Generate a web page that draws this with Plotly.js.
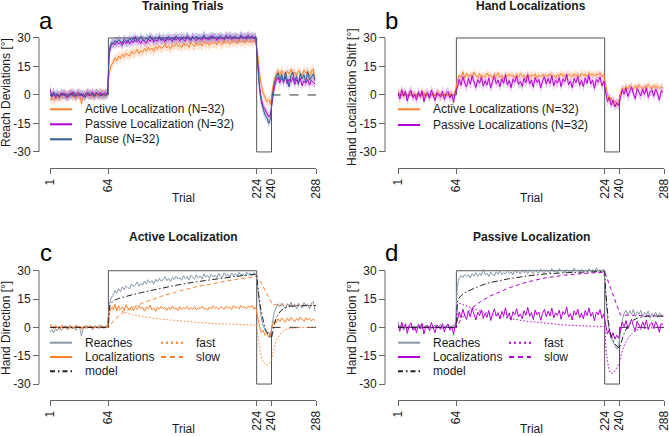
<!DOCTYPE html>
<html>
<head>
<meta charset="utf-8">
<script src="https://cdn.plot.ly/plotly-3.0.1.min.js"></script>
<style>html,body{margin:0;padding:0;background:#fff}#chart{width:669px;height:436px}</style>
</head>
<body>
<div id="chart"></div>
<script>
// every second trial (1, 3, ..., 287): baseline 1-63, rotation 65-223, reversal 225-239, clamp 241-287
const trials = Array.from({ length: 144 }, (_, i) => 2 * i + 1);

const activeReach = [
	-2.5, -1.2, -2.8, -0.6, -1.9, 0.4, -1.5, -0.8, 0.9, -1.1, -0.3, 1.2, -0.9, 0.2, -1.6, 0.8,
	-0.4, -4.6, 0.3, -0.7, 1.1, -0.2, 0.6, -1.3, 0.9, 0.1, -0.5, 1.4, 0.2, -0.6, 0.8, 0.5,
	12, 15.5, 17, 19.5, 18, 20.5, 19, 21.5, 20, 22,
	21, 20.5, 23, 21.5, 22.5, 24, 21.8, 23.2, 22.4, 24.5,
	23, 25.2, 23.6, 24.8, 22.9, 25.5, 24.1, 26, 24.4, 25.2,
	26.8, 24.7, 25.9, 24.2, 26.5, 25.3, 27.1, 25.6, 26.3, 24.9,
	27.4, 25.8, 26.9, 25.1, 27.6, 26.2, 25.4, 27.8, 26.1, 27.2,
	25.7, 28.3, 26.6, 27.5, 25.9, 28.1, 26.8, 27.7, 26.3, 28.6,
	27.1, 26.4, 28.9, 27.3, 28.1, 26.7, 28.8, 27.4, 28.5, 26.9,
	29.1, 27.6, 28.4, 27.2, 29.3, 27.8, 28.7, 27.5, 29, 28.2,
	22, 12, 5, 1, -1.5, -3.5, -2.5, -5,
	3, 8, 10.5, 12.5, 10.8, 12.9, 11.2, 9.8, 12.6, 11, 13.4, 10.7,
	12.1, 9.9, 12.8, 11.3, 10.2, 13.1, 11.6, 12.4, 9.7, 12.9, 13.6, 8.5
];
const passiveReach = [
	3.2, -0.8, 1.5, -1.6, 0.4, -1.2, 1.1, -0.3, 0.9, -1.5, 0.6, -0.2, 1.7, -0.9, 0.3, 1.2,
	-0.6, 0.8, -1.1, 0.5, 1.4, -0.4, 0.2, 1.6, -0.7, 0.9, 0.1, 1.3, -0.5, 0.7, 1.0, 0.4,
	22, 26, 27.5, 26.3, 28.1, 26.9, 27.8, 26.2, 28.4, 27.1,
	29, 26.8, 28.6, 27.4, 30.8, 27.9, 28.7, 26.9, 29.3, 28,
	27.2, 29.5, 28.1, 30.2, 27.8, 29, 28.3, 30.1, 28.6, 29.4,
	27.9, 30.3, 28.8, 29.6, 28.2, 30.5, 28.9, 29.8, 28.4, 30.6,
	29.1, 28.5, 30.4, 29.2, 28.7, 30.9, 29.3, 28.6, 30.2, 29.5,
	28.8, 31.1, 29.4, 30, 28.9, 31.2, 29.7, 30.4, 28.8, 30.7,
	29.5, 30.1, 29, 31.4, 29.8, 30.5, 29.2, 30.8, 29.6, 30.3,
	29.4, 31, 29.7, 30.6, 29.3, 31.6, 29.9, 30.4, 29.5, 30.9,
	18, 5, -2, -6, -7.5, -9.5, -11.5, -10,
	-2, 4, 7.5, 9.2, 6.4, 8.8, 7.1, 9.5, 5.8, 8.3, 6.9, 9.1,
	5.5, 8, 6.6, 8.7, 4.9, 7.4, 6.2, 8.1, 5.3, 7.7, 6.8, 5.6
];
const pauseReach = [
	0.6, -0.9, 1.3, -0.4, 0.8, -1.2, 0.2, 1.0, -0.6, 0.5, -1.1, 0.9, -0.3, 1.4, -0.8, 0.3,
	1.1, -0.5, 0.7, -1.3, 0.4, 1.2, -0.2, 0.6, -0.9, 1.5, 0.1, -0.7, 0.9, 0.3, -0.4, 0.8,
	24, 27.5, 26.8, 28.6, 27.4, 29.1, 28, 27.3, 29.4, 28.2,
	27.6, 29.8, 28.5, 30.3, 28.1, 29.6, 28.7, 30.9, 29.2, 28.4,
	30.1, 29, 31.2, 29.5, 28.8, 30.4, 29.3, 31, 28.9, 30.2,
	29.6, 28.7, 30.8, 29.4, 30.1, 28.8, 31.1, 29.7, 30.3, 29.1,
	30.6, 29.5, 31.3, 29.8, 28.9, 30.5, 29.6, 31, 29.2, 30.4,
	29.7, 31.5, 30, 29.3, 30.8, 29.6, 31.2, 29.9, 30.6, 29.4,
	31.3, 30.1, 29.5, 30.9, 29.8, 31.4, 30.2, 29.6, 31.1, 30,
	29.7, 31.6, 30.3, 29.9, 31, 30.4, 29.8, 31.2, 30.1, 30.7,
	16, 3, -4, -8, -10.5, -12, -15, -12.5,
	0, 6, 9.5, 11.5, 8, 10.8, 6.5, 11.9, 8.7, 4.2, 10.4, 12.1,
	7.3, 9.8, 5.6, 11.2, 8.4, 10.6, 6.9, 12.3, 7.8, 9.5, 11, 7.6
];
const activeLoc = [
	1.8, 0.4, -0.6, 1.2, 0.2, -0.9, 0.7, 1.1, -0.4, 0.5, -1.2, 0.8, 0.1, -0.7, 1.3, -0.3,
	0.6, -1.0, 0.4, 0.9, -0.5, 0.2, 1.0, -0.8, 0.3, -0.2, 0.7, -0.6, 0.9, 0.2, -0.4, 1.5,
	7.5, 10.5, 9.2, 12.3, 8.8, 11.4, 9.6, 10.8, 8.9, 12,
	10.1, 9.3, 11.2, 8.7, 10.4, 9.5, 11.5, 9.9, 10.6, 8.6,
	10.9, 9.8, 11.7, 9.2, 10.3, 8.4, 10.8, 9.6, 11.1, 9.9,
	10.5, 9, 10.7, 9.4, 11.3, 9.7, 10.2, 8.9, 10.9, 9.5,
	10.6, 9.8, 11, 9.3, 10.4, 9.6, 10.9, 9.2, 10.5, 9.9,
	11.2, 9.7, 10.3, 9.1, 10.8, 9.8, 11.4, 10, 10.6, 9.5,
	11, 10.2, 9.6, 11.3, 10.1, 10.7, 9.4, 11.5, 10.3, 10.9,
	9.8, 11.6, 10.4, 11, 9.9, 11.2, 10.5, 11.7, 9.6, 10.8,
	5, 0.5, -2.8, -1.5, -4.2, -3, -5.3, -3.6,
	1.2, 3.5, 2.4, 4.6, 3.1, 5, 3.8, 2.7, 4.9, 3.4, 5.3, 4,
	2.9, 4.7, 3.6, 5.5, 4.2, 3.1, 5.1, 3.9, 4.8, 3.3, 4.4, 3.7
];
const passiveLoc = [
	1.5, -2.1, 2.8, -0.6, 1.9, -3.2, 0.8, 2.4, -1.4, 0.3, -2.7, 1.6, -0.9, 2.2, -3.5, 0.5,
	1.1, -1.8, 2.6, -0.4, -2.9, 1.3, 0.2, -1.1, 2.0, -2.4, 0.7, 1.8, -1.5, 0.4, -3.8, 2.1,
	3.5, 8.2, 5.1, 9.6, 6.3, 4.2, 8.7, 5.6, 10.1, 6.8,
	3.9, 8, 6.2, 9.3, 4.7, 7.5, 5.3, 8.9, 3.6, 7.2,
	9.8, 5.9, 7.8, 4.4, 8.5, 6.1, 10.4, 5.2, 7.6, 3.8,
	8.3, 6.7, 9.9, 5.5, 7.1, 4.6, 8.8, 6.4, 10.6, 5.8,
	7.9, 4.1, 9.2, 6.6, 8.1, 3.7, 7.4, 9.5, 5.7, 8.6,
	6, 10.2, 4.9, 7.7, 6.3, 9.1, 4.3, 8.4, 6.9, 10.8,
	5.4, 7.3, 3.9, 8.7, 6.5, 9.7, 5.1, 7.6, 4.5, 8.9,
	6.2, 10.3, 5.8, 7.9, 3.4, 8.2, 6.7, 9.4, 4.8, 7.1,
	2, -3.5, -1.2, -5.4, -2.8, -6.3, -4.1, -5.8,
	-1.5, 2.8, 0.4, 3.6, -0.8, 2.1, 4.2, 0.6, -1.9, 3.3, 1.2, -0.5,
	2.9, 0.3, 3.8, -1.2, 1.7, 2.5, -0.7, 3.1, 0.9, -2.6, 2.2, 1.4
];

// 95% CI half widths of the group means
const activeReachCI = 2.6;
const passiveReachCI = 2.4;
const pauseReachCI = 2.4;
const activeLocCI = 2.0;
const passiveLocCI = 2.6;

// perturbation schedule
const schedTrials = [1, 64, 64, 224, 224, 240, 240];
const schedValues = [0, 0, 30, 30, -30, -30, 0];
const clampTrials = [240, 288];
const clampValues = [0, 0];

// two-rate model fits
const modelTrials = [1, 64, 65, 66, 68, 70, 75, 80, 90, 100, 120, 140, 160, 180, 200, 224,
	225, 226, 228, 230, 232, 234, 236, 238, 240, 241, 242, 244, 246, 248, 250, 255, 260, 270, 288];
const activeFast = [0, 0, 9.5, 10.5, 10.8, 10.5, 9.3, 8.3, 6.8, 5.8, 4.4, 3.4, 2.6, 2.0, 1.6, 1.2,
	-4, -8, -13.5, -17, -19, -20, -19.8, -19, -17.8, -15, -12.5, -8.5, -6, -4.2, -3, -1.2, -0.5, -0.1, 0];
const activeSlow = [0, 0, 0.7, 1.4, 2.6, 3.7, 6, 7.8, 10.5, 12.7, 16.3, 19.2, 21.6, 23.6, 25.3, 27.0,
	26.6, 26, 24.3, 22.4, 20.4, 18.4, 16.3, 14.2, 12.2, 12.0, 12.0, 11.9, 11.9, 11.9, 11.8, 11.8, 11.7, 11.6, 11.5];
const activeModel = [0, 0, 10.2, 11.9, 13.4, 14.2, 15.3, 16.1, 17.3, 18.5, 20.7, 22.6, 24.2, 25.6, 26.9, 28.2,
	22.6, 18, 10.8, 5.4, 1.4, -1.6, -3.5, -4.8, -5.6, -3, -0.5, 3.4, 5.9, 7.7, 8.8, 10.6, 11.2, 11.5, 11.5];
const passiveFast = [0, 0, 12.3, 12.8, 12.6, 12.2, 11.1, 10.1, 8.5, 7.2, 4.9, 3.2, 2.1, 1.3, 0.8, 0.4,
	-8, -14, -21, -24, -24.4, -23.8, -22.3, -20.5, -18.7, -16, -14, -11, -8.5, -6.5, -5, -2.5, -1.2, -0.3, 0];
const passiveSlow = [0, 0, 1.0, 2.0, 3.6, 5.0, 7.8, 10.0, 13.6, 16.5, 20.8, 24.0, 26.2, 27.6, 28.5, 29.2,
	28, 26.7, 24, 21.3, 18.5, 15.8, 13, 10.3, 7.5, 6.6, 6.5, 6.5, 6.5, 6.4, 6.4, 6.3, 6.3, 6.2, 6.0];
const passiveModel = [0, 0, 13.3, 14.8, 16.2, 17.2, 18.9, 20.1, 22.1, 23.7, 25.7, 27.2, 28.3, 28.9, 29.3, 29.6,
	20, 12.7, 3, -2.7, -5.9, -8, -9.3, -10.2, -11.2, -9.4, -7.5, -4.5, -2, -0.1, 1.4, 3.8, 5.1, 5.9, 6.0];

const tickTrials = [1, 64, 224, 240, 288];
const yTicks = [-30, -15, 0, 15, 30];
const groupNames = ['Active Localization (N=32)', 'Passive Localization (N=32)', 'Pause (N=32)'];
const locNames = ['Active Localizations (N=32)', 'Passive Localizations (N=32)'];
const fitNames = ['Reaches', 'Localizations', 'model', 'fast', 'slow'];

const activeColor = '#ff7f2a';
const passiveColor = '#b400d4';
const pauseColor = '#2f5d96';
const reachColor = '#8797a8';
const modelColor = '#222222';
const schedColor = '#555555';
const font = '"Liberation Sans", Arial, Helvetica, sans-serif';
const dotDash = '1.5px,2px';
const dashDash = '4px,3px';
const modelDash = '6px,2.5px,1.5px,2.5px';

const W = 669, H = 436;
const px = v => v / W;
const py = v => 1 - v / H;
const yRange = [-38.45, 35.25];

function hexA(hex, a) {
	const n = parseInt(hex.slice(1), 16);
	return 'rgba(' + (n >> 16) + ',' + ((n >> 8) & 255) + ',' + (n & 255) + ',' + a + ')';
}

function line(p, x, y, color, name, dash) {
	return {
		x: x, y: y, xaxis: p === 1 ? 'x' : 'x' + p, yaxis: p === 1 ? 'y' : 'y' + p,
		type: 'scatter', mode: 'lines', name: name || '',
		line: { color: color, width: 1, dash: dash || 'solid' },
		showlegend: false, hoverinfo: 'skip'
	};
}

function band(p, mean, ci, color) {
	const up = mean.map(v => v + ci);
	const lo = mean.map(v => v - ci).reverse();
	const t = line(p, trials.concat(trials.slice().reverse()), up.concat(lo), color);
	t.fill = 'toself';
	t.fillcolor = hexA(color, 0.22);
	t.line = { width: 0, color: color };
	return t;
}

function schedule(p, withClamp) {
	const t = [line(p, schedTrials, schedValues, schedColor)];
	if (withClamp) t.push(line(p, clampTrials, clampValues, '#333333', '', 'dash'));
	return t;
}

const traces = [].concat(
	// a: training reaches
	schedule(1, true),
	band(1, activeReach, activeReachCI, activeColor),
	band(1, passiveReach, passiveReachCI, passiveColor),
	band(1, pauseReach, pauseReachCI, pauseColor),
	line(1, trials, activeReach, activeColor, groupNames[0]),
	line(1, trials, passiveReach, passiveColor, groupNames[1]),
	line(1, trials, pauseReach, pauseColor, groupNames[2]),
	// b: hand localizations
	schedule(2, false),
	band(2, activeLoc, activeLocCI, activeColor),
	band(2, passiveLoc, passiveLocCI, passiveColor),
	line(2, trials, activeLoc, activeColor, locNames[0]),
	line(2, trials, passiveLoc, passiveColor, locNames[1]),
	// c: active localization model
	schedule(3, true),
	line(3, modelTrials, activeFast, activeColor, fitNames[3], dotDash),
	line(3, modelTrials, activeSlow, activeColor, fitNames[4], dashDash),
	line(3, trials, activeReach, reachColor, fitNames[0]),
	line(3, trials, activeLoc, activeColor, fitNames[1]),
	line(3, modelTrials, activeModel, modelColor, fitNames[2], modelDash),
	// d: passive localization model
	schedule(4, true),
	line(4, modelTrials, passiveFast, passiveColor, fitNames[3], dotDash),
	line(4, modelTrials, passiveSlow, passiveColor, fitNames[4], dashDash),
	line(4, trials, passiveReach, reachColor, fitNames[0]),
	line(4, trials, passiveLoc, passiveColor, fitNames[1]),
	line(4, modelTrials, passiveModel, modelColor, fitNames[2], modelDash)
);

// panel geometry in pixels
const panels = [
	{ x0: 50, x1: 316, top: 28, bottom: 168, axisX: 39, title: 'Training Trials', tag: 'a', ytitle: 'Reach Deviations [°]', tcy: 6, tagY: 21, ytY: 93, trialY: 198 },
	{ x0: 398, x1: 664, top: 28, bottom: 168, axisX: 385, title: 'Hand Localizations', tag: 'b', ytitle: 'Hand Localization Shift [°]', tcy: 6, tagY: 21, ytY: 97, trialY: 198 },
	{ x0: 50, x1: 316, top: 260.8, bottom: 400, axisX: 39, title: 'Active Localization', tag: 'c', ytitle: 'Hand Direction [°]', tcy: 236.5, tagY: 252, ytY: 328, trialY: 429 },
	{ x0: 398, x1: 664, top: 260.8, bottom: 400, axisX: 385, title: 'Passive Localization', tag: 'd', ytitle: 'Hand Direction [°]', tcy: 236.5, tagY: 252, ytY: 328, trialY: 429 }
];

const layout = {
	width: W, height: H,
	margin: { l: 0, r: 0, t: 0, b: 0 },
	paper_bgcolor: '#ffffff', plot_bgcolor: 'rgba(0,0,0,0)',
	font: { family: font, size: 12, color: '#1a1a1a' },
	showlegend: false,
	shapes: [], annotations: []
};

function text(t, x, y, opts) {
	layout.annotations.push(Object.assign({
		text: t, x: px(x), y: py(y), xref: 'paper', yref: 'paper', showarrow: false,
		xanchor: 'center', yanchor: 'middle', font: { size: 12 }
	}, opts || {}));
}

panels.forEach((p, i) => {
	const n = i + 1;
	const xa = n === 1 ? 'xaxis' : 'xaxis' + n;
	const ya = n === 1 ? 'yaxis' : 'yaxis' + n;
	const yid = n === 1 ? 'y' : 'y' + n;
	layout[xa] = {
		domain: [px(p.x0), px(p.x1)], anchor: yid, range: [1, 288],
		showline: true, linecolor: '#666666', linewidth: 1,
		ticks: 'outside', ticklen: 5, tickcolor: '#666666',
		tickvals: tickTrials, ticktext: tickTrials.map(String), tickangle: -90,
		ticklabeloverflow: 'allow',
		tickfont: { size: 12 }, showgrid: false, zeroline: false
	};
	layout[ya] = {
		domain: [py(p.bottom), py(p.top)], anchor: 'free', position: px(p.axisX), range: yRange,
		showline: false, ticks: 'outside', ticklen: 6, tickcolor: '#666666',
		tickvals: yTicks, ticktext: yTicks.map(String), tickfont: { size: 12 },
		showgrid: false, zeroline: false
	};
	layout.shapes.push({
		type: 'line', xref: 'paper', yref: yid, x0: px(p.axisX), x1: px(p.axisX), y0: -30, y1: 30,
		line: { color: '#666666', width: 1 }
	});
	const cx = (p.x0 + p.x1) / 2;
	text('<b>' + p.title + '</b>', cx, p.tcy);
	text(p.tag, p.axisX + 7, p.tagY, { font: { size: 24, color: '#000000' } });
	text(p.ytitle, p.axisX - 33, p.ytY, { textangle: -90 });
	text('Trial', cx, p.trialY);
});

// legend keys drawn like the R legends: 22px line sample, label 11px to its right
function legend(x, y0, step, items) {
	items.forEach((it, k) => {
		const y = y0 + k * step;
		layout.shapes.push({
			type: 'line', xref: 'paper', yref: 'paper', x0: px(x), x1: px(x + 22), y0: py(y), y1: py(y),
			line: { color: it[1], width: 2, dash: it[2] || 'solid' }
		});
		text(it[0], x + 33, y, { xanchor: 'left' });
	});
}
legend(50, 109.3, 15, [[groupNames[0], activeColor], [groupNames[1], passiveColor], [groupNames[2], pauseColor]]);
legend(398, 109.3, 15.7, [[locNames[0], activeColor], [locNames[1], passiveColor]]);
legend(50, 342.7, 14.3, [[fitNames[0], reachColor], [fitNames[1], activeColor], [fitNames[2], modelColor, '5px,3px,1.5px,3px']]);
legend(161, 342.7, 14.3, [[fitNames[3], activeColor, '2px,3px'], [fitNames[4], activeColor, '5px,4px']]);
legend(398, 342.7, 14.3, [[fitNames[0], reachColor], [fitNames[1], passiveColor], [fitNames[2], modelColor, '5px,3px,1.5px,3px']]);
legend(509, 342.7, 14.3, [[fitNames[3], passiveColor, '2px,3px'], [fitNames[4], passiveColor, '5px,4px']]);

Plotly.newPlot('chart', traces, layout, { displayModeBar: false, staticPlot: true });
</script>
</body>
</html>
